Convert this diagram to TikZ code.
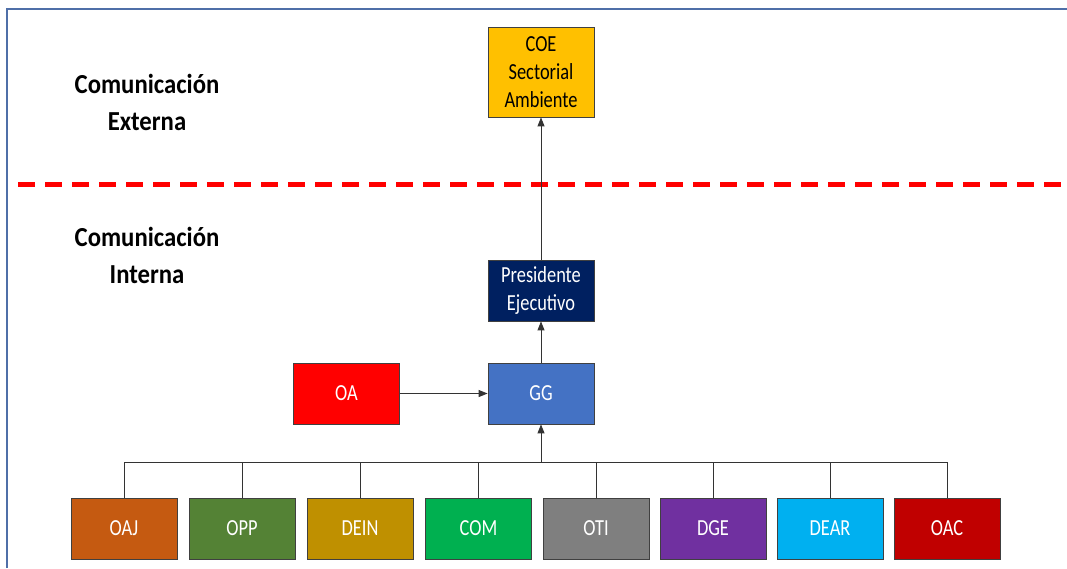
\documentclass[tikz,border=0pt]{standalone}
\usepackage{fontspec}
\setmainfont[FakeStretch=0.8]{Carlito}
\newfontfamily\titlefont[FakeStretch=0.9]{Carlito}
\usetikzlibrary{arrows.meta}
\definecolor{cCOE}{HTML}{FFC000}
\definecolor{cPE}{HTML}{002060}
\definecolor{cOA}{HTML}{FF0000}
\definecolor{cGG}{HTML}{4472C4}
\definecolor{cOAJ}{HTML}{C55A11}
\definecolor{cOPP}{HTML}{548235}
\definecolor{cDEIN}{HTML}{BF9000}
\definecolor{cCOM}{HTML}{00B050}
\definecolor{cOTI}{HTML}{7F7F7F}
\definecolor{cDGE}{HTML}{7030A0}
\definecolor{cDEAR}{HTML}{00B0F0}
\definecolor{cOAC}{HTML}{C00000}
\definecolor{frameblue}{HTML}{4F6FA8}
\definecolor{boxedge}{HTML}{404040}
\begin{document}
\begin{tikzpicture}[x=1pt,y=-1pt,
  unitbox/.style={draw=boxedge, line width=0.8pt, minimum width=106pt, minimum height=61pt,
    inner sep=0pt, align=center, font=\fontsize{23}{28}\selectfont, text=white},
  conn/.style={draw=black!80, line width=0.9pt},
  arr/.style={conn, -{Triangle[length=9pt,width=7pt]}},
  sectlabel/.style={align=center, font=\titlefont\fontsize{27.5}{37}\selectfont\bfseries}
]
\useasboundingbox (0,0) rectangle (1067,568);
\fill[white] (0,0) rectangle (1067,568);
% frame
\coordinate (ftl) at (7,9);
\coordinate (ftr) at (1067,9);
\coordinate (fbl) at (7,568);
\draw[frameblue, line width=2pt] (fbl) -- (ftl) -- (ftr);
% dashed separator
\coordinate (dl) at (18,184);
\coordinate (dr) at (1067,184);
\draw[red, line width=5pt, dash pattern=on 17pt off 10pt] (dl) -- (dr);
% labels
\node[sectlabel] (ext) at (147,102) {Comunicación\\Externa};
\node[sectlabel] (int) at (147,255) {Comunicación\\Interna};
% top nodes
\node[unitbox, fill=cCOE, text=black, minimum height=90pt] (coe) at (541,72) {COE\\Sectorial\\Ambiente};
\node[unitbox, fill=cPE] (pe) at (541,290.5) {Presidente\\Ejecutivo};
\node[unitbox, fill=cGG] (gg) at (541,393.5) {GG};
\node[unitbox, fill=cOA] (oa) at (346.5,393.5) {OA};
% bottom nodes
\node[unitbox, fill=cOAJ] (oaj) at (124,528.5) {OAJ};
\node[unitbox, fill=cOPP] (opp) at (242,528.5) {OPP};
\node[unitbox, fill=cDEIN] (dein) at (360,528.5) {DEIN};
\node[unitbox, fill=cCOM] (com) at (478.5,528.5) {COM};
\node[unitbox, fill=cOTI] (oti) at (596,528.5) {OTI};
\node[unitbox, fill=cDGE] (dge) at (713,528.5) {DGE};
\node[unitbox, fill=cDEAR] (dear) at (830,528.5) {DEAR};
\node[unitbox, fill=cOAC] (oac) at (947,528.5) {OAC};
% connectors
\coordinate (bus) at (541,462);
\draw[conn] (oaj.north) -- (oaj.north |- bus) -- (oac.north |- bus) -- (oac.north);
\foreach \n in {opp,dein,com,oti,dge,dear} {
  \draw[conn] (\n.north) -- (\n.north |- bus);
}
\draw[arr] (bus) -- (gg.south);
\draw[arr] (oa.east) -- (gg.west);
\draw[arr] (gg.north) -- (pe.south);
\draw[arr] (pe.north) -- (coe.south);
\end{tikzpicture}
\end{document}
